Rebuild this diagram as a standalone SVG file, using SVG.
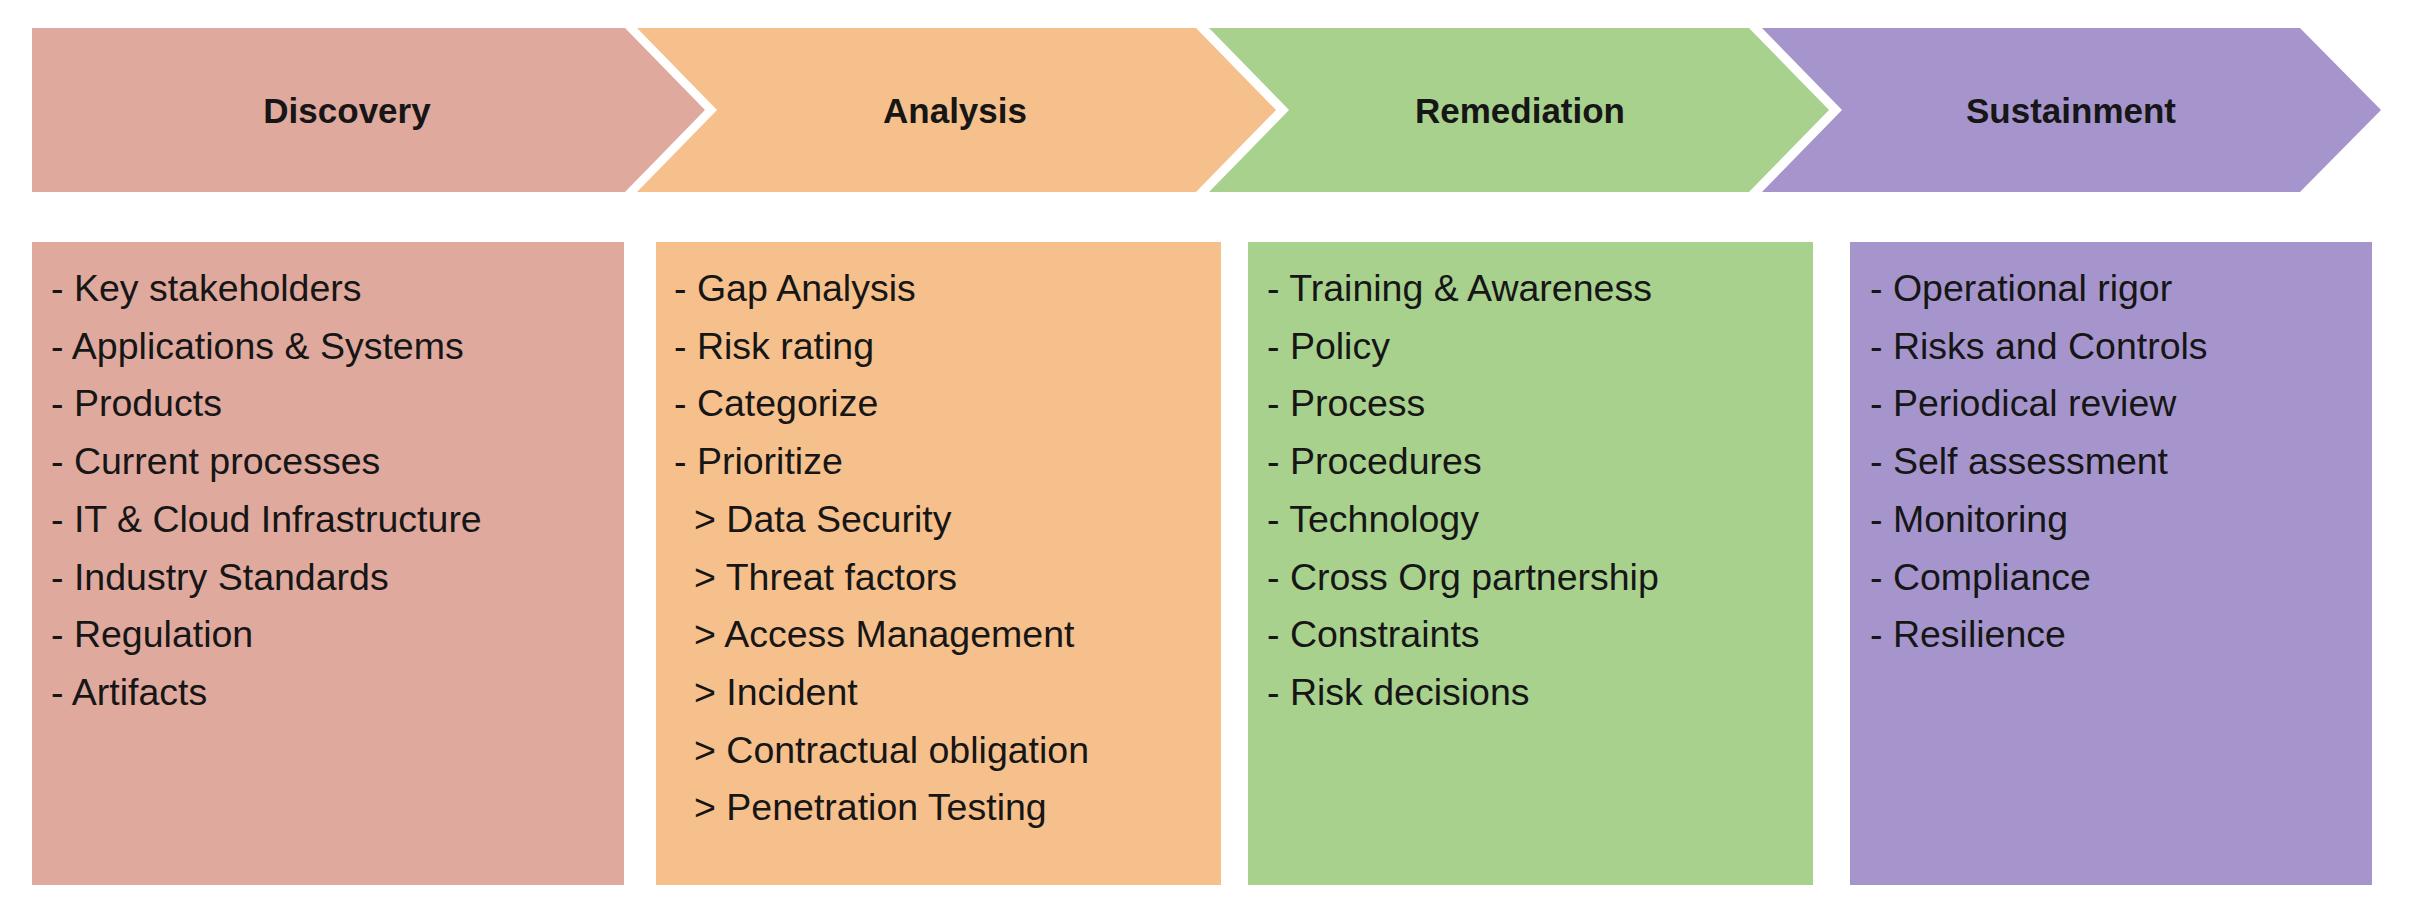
<svg xmlns="http://www.w3.org/2000/svg" width="2418" height="924" viewBox="0 0 2418 924">
<style>
.bg{fill:#ffffff}
.pink{fill:#DFA99E}
.orange{fill:#F6C08C}
.green{fill:#A9D18E}
.purple{fill:#A695CC}
.hdr{font-family:"Liberation Sans",Arial,sans-serif;font-weight:bold;font-size:35px;fill:#161616;text-anchor:middle}
.item{font-family:"Liberation Sans",Arial,sans-serif;font-size:37.5px;fill:#161616}
</style>
<rect class="bg" x="0" y="0" width="2418" height="924"/>
<g id="stage-discovery">
<polygon class="pink" points="32,28 625,28 705,110 625,192 32,192"/>
<text class="hdr" x="347" y="123">Discovery</text>
</g>
<g id="stage-analysis">
<polygon class="orange" points="637,28 1196,28 1276,110 1196,192 637,192 717,110"/>
<text class="hdr" x="955" y="123">Analysis</text>
</g>
<g id="stage-remediation">
<polygon class="green" points="1209,28 1749,28 1829,110 1749,192 1209,192 1289,110"/>
<text class="hdr" x="1520" y="123">Remediation</text>
</g>
<g id="stage-sustainment">
<polygon class="purple" points="1762,28 2300,28 2381,110 2300,192 1762,192 1842,110"/>
<text class="hdr" x="2071" y="123">Sustainment</text>
</g>
<g id="panel-discovery">
<rect class="pink" x="32" y="242" width="592" height="643"/>
<text class="item" x="51" y="301">- Key stakeholders</text>
<text class="item" x="51" y="358.7">- Applications &amp; Systems</text>
<text class="item" x="51" y="416.4">- Products</text>
<text class="item" x="51" y="474.1">- Current processes</text>
<text class="item" x="51" y="531.8">- IT &amp; Cloud Infrastructure</text>
<text class="item" x="51" y="589.5">- Industry Standards</text>
<text class="item" x="51" y="647.2">- Regulation</text>
<text class="item" x="51" y="704.9">- Artifacts</text>
</g>
<g id="panel-analysis">
<rect class="orange" x="656" y="242" width="565" height="643"/>
<text class="item" x="674" y="301">- Gap Analysis</text>
<text class="item" x="674" y="358.7">- Risk rating</text>
<text class="item" x="674" y="416.4">- Categorize</text>
<text class="item" x="674" y="474.1">- Prioritize</text>
<text class="item" x="694" y="531.8">&gt; Data Security</text>
<text class="item" x="694" y="589.5">&gt; Threat factors</text>
<text class="item" x="694" y="647.2">&gt; Access Management</text>
<text class="item" x="694" y="704.9">&gt; Incident</text>
<text class="item" x="694" y="762.6">&gt; Contractual obligation</text>
<text class="item" x="694" y="820.3">&gt; Penetration Testing</text>
</g>
<g id="panel-remediation">
<rect class="green" x="1248" y="242" width="565" height="643"/>
<text class="item" x="1267" y="301">- Training &amp; Awareness</text>
<text class="item" x="1267" y="358.7">- Policy</text>
<text class="item" x="1267" y="416.4">- Process</text>
<text class="item" x="1267" y="474.1">- Procedures</text>
<text class="item" x="1267" y="531.8">- Technology</text>
<text class="item" x="1267" y="589.5">- Cross Org partnership</text>
<text class="item" x="1267" y="647.2">- Constraints</text>
<text class="item" x="1267" y="704.9">- Risk decisions</text>
</g>
<g id="panel-sustainment">
<rect class="purple" x="1850" y="242" width="522" height="643"/>
<text class="item" x="1870" y="301">- Operational rigor</text>
<text class="item" x="1870" y="358.7">- Risks and Controls</text>
<text class="item" x="1870" y="416.4">- Periodical review</text>
<text class="item" x="1870" y="474.1">- Self assessment</text>
<text class="item" x="1870" y="531.8">- Monitoring</text>
<text class="item" x="1870" y="589.5">- Compliance</text>
<text class="item" x="1870" y="647.2">- Resilience</text>
</g>
</svg>
